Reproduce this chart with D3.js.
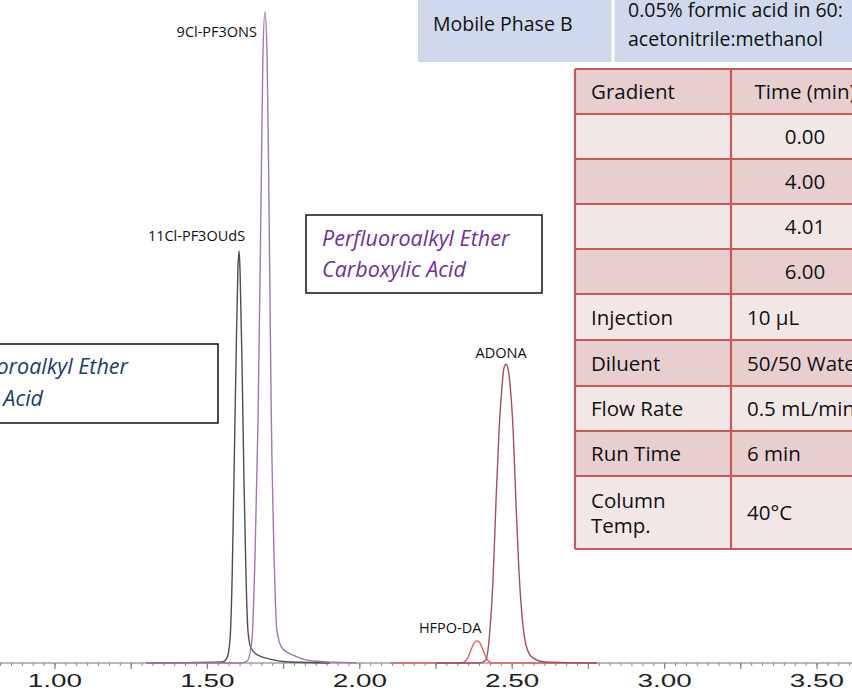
<!DOCTYPE html>
<html>
<head>
<meta charset="utf-8">
<script src="https://cdn.jsdelivr.net/npm/d3@7"></script>
<style>
body { margin: 0; background: #fff; }
svg { display: block; }
</style>
</head>
<body>
<svg id="chart" width="852" height="692"></svg>
<script>
// retention time (min), relative intensity (%)
var trace11Cl = [[1.30,0],[1.548,0.15],[1.564,0.8],[1.574,3.5],[1.581,12.7],[1.587,28],[1.594,46.5],[1.600,60.4],[1.604,63.3],[1.607,60.4],[1.614,45],[1.620,28],[1.627,12.7],[1.633,5],[1.643,2.3],[1.666,1.2],[1.705,0.6],[1.771,0.15],[1.902,0]];
var trace9Cl = [[1.30,0],[1.607,0],[1.630,0.3],[1.646,3.5],[1.656,16],[1.666,37],[1.676,71],[1.682,93],[1.689,100],[1.696,93],[1.702,71],[1.709,40],[1.719,16],[1.728,5],[1.745,2.3],[1.787,1.1],[1.846,0.3],[1.99,0]];
var traceHFPO = [[2.10,0],[2.335,0],[2.352,0.6],[2.365,2.0],[2.375,3.1],[2.385,3.4],[2.394,3.1],[2.404,2.0],[2.417,0.6],[2.434,0],[2.778,0]];
var traceADONA = [[2.25,0],[2.394,0],[2.414,0.5],[2.427,5.1],[2.437,12.7],[2.447,25],[2.457,35.8],[2.467,42.7],[2.473,45.3],[2.480,45.9],[2.486,45.3],[2.493,42.7],[2.503,35.8],[2.512,25],[2.522,14.3],[2.532,7.4],[2.545,2.8],[2.565,0.9],[2.608,0.15],[2.778,0]];
var peakNames = ["11Cl-PF3OUdS", "9Cl-PF3ONS", "HFPO-DA", "ADONA"];
var majorTicks = [1.00, 1.50, 2.00, 2.50, 3.00, 3.50];

var classBoxes = [["Perfluoroalkyl Ether", "Carboxylic Acid"], ["Perfluoroalkyl Ether", "Sulfonic Acid"]];
var phaseRow = ["Mobile Phase B", "0.05% formic acid in 60:", "acetonitrile:methanol"];
var condLabels = ["Gradient", "", "", "", "", "Injection", "Diluent", "Flow Rate", "Run Time", "Column|Temp."];
var condValues = ["Time (min)", "0.00", "4.00", "4.01", "6.00", "10 µL", "50/50 Water:Methanol", "0.5 mL/min", "6 min", "40°C"];

var svg = d3.select("#chart");
var font = "'Open Sans', sans-serif";

var x = d3.scaleLinear().domain([1.0, 3.5]).range([55, 817]);
var y = d3.scaleLinear().domain([0, 100]).range([663, 12]);

// axis
var axisG = svg.append("g").attr("transform", "translate(0,663)");
axisG.append("line").attr("x1", 0).attr("x2", 852).attr("stroke", "#777").attr("stroke-width", 1.2);
var small = d3.range(0.75, 3.75, 0.25 / 7);
axisG.selectAll("line.sm").data(small).join("line").attr("class", "sm")
  .attr("x1", d => x(d)).attr("x2", d => x(d)).attr("y1", 0).attr("y2", 3)
  .attr("stroke", "#888").attr("stroke-width", 1);
axisG.selectAll("line.tall").data(d3.range(0.75, 3.76, 0.25)).join("line").attr("class", "tall")
  .attr("x1", d => x(d)).attr("x2", d => x(d)).attr("y1", 0).attr("y2", 6)
  .attr("stroke", "#888").attr("stroke-width", 1.3);
axisG.selectAll("text").data(majorTicks).join("text")
  .attr("transform", d => "translate(" + x(d) + ",24) scale(1.55,1)")
  .attr("text-anchor", "middle").attr("font-family", "'Liberation Sans', Arial, sans-serif")
  .attr("font-size", 18).attr("fill", "#222").text(d3.format(".2f"));

// traces
var line = d3.line().x(d => x(d[0])).y(d => y(d[1])).curve(d3.curveMonotoneX);
var traces = [
  {data: traceHFPO, color: "#e0606b"},
  {data: traceADONA, color: "#a44f5b"},
  {data: trace11Cl, color: "#4d4d4d"},
  {data: trace9Cl, color: "#a775b6"}
];
svg.append("g").selectAll("path").data(traces).join("path")
  .attr("d", d => line(d.data)).attr("fill", "none")
  .attr("stroke", d => d.color).attr("stroke-width", 1.4);

// peak labels
function apex(tr) { return tr.reduce((a, b) => b[1] > a[1] ? b : a); }
var lblPos = [
  {p: apex(trace11Cl), dx: 6, dy: -10, anchor: "end"},
  {p: apex(trace9Cl), dx: -8, dy: 25, anchor: "end"},
  {p: apex(traceHFPO), dx: -27, dy: -8, anchor: "middle"},
  {p: apex(traceADONA), dx: -5, dy: -6, anchor: "middle"}
];
svg.append("g").selectAll("text").data(peakNames).join("text")
  .attr("x", (d, i) => x(lblPos[i].p[0]) + lblPos[i].dx)
  .attr("y", (d, i) => y(lblPos[i].p[1]) + lblPos[i].dy)
  .attr("text-anchor", (d, i) => lblPos[i].anchor)
  .attr("font-family", font).attr("font-size", 14.5).attr("fill", "#111").text(d => d);

// class boxes
var box1 = svg.append("g");
box1.append("rect").attr("x", 306).attr("y", 215).attr("width", 236).attr("height", 78)
  .attr("fill", "#fff").attr("stroke", "#111").attr("stroke-width", 1.5);
box1.selectAll("text").data(classBoxes[0]).join("text")
  .attr("x", 322).attr("y", (d, i) => 246 + i * 31)
  .attr("font-family", font).attr("font-style", "italic").attr("font-size", 21.5)
  .attr("fill", "#7030a0").text(d => d);

var box2 = svg.append("g");
box2.append("rect").attr("x", -5).attr("y", 344).attr("width", 223).attr("height", 79)
  .attr("fill", "#fff").attr("stroke", "#111").attr("stroke-width", 1.5);
box2.selectAll("text").data(classBoxes[1]).join("text")
  .attr("x", (d, i) => i === 0 ? 128 : 43).attr("y", (d, i) => 374 + i * 32)
  .attr("text-anchor", "end")
  .attr("font-family", font).attr("font-style", "italic").attr("font-size", 21.5)
  .attr("fill", "#1f3a72").text(d => d);

// mobile phase table (top)
var mp = svg.append("g");
mp.append("rect").attr("x", 418).attr("y", -10).attr("width", 500).attr("height", 72).attr("fill", "#cfd9eb");
mp.append("line").attr("x1", 613).attr("x2", 613).attr("y1", -10).attr("y2", 62).attr("stroke", "#fff").attr("stroke-width", 3);
mp.append("text").attr("x", 433).attr("y", 31).text(phaseRow[0]);
mp.append("text").attr("x", 628).attr("y", 17).text(phaseRow[1]);
mp.append("text").attr("x", 628).attr("y", 46).text(phaseRow[2]);
mp.selectAll("text").attr("font-family", font).attr("font-size", 19.5).attr("fill", "#111");

// conditions table
var rowEdges = [69, 114, 159, 204, 249, 294, 340, 386, 431, 476, 549];
var cx0 = 575, cx1 = 731, cx2 = 930;
var ct = svg.append("g");
ct.selectAll("rect").data(condLabels).join("rect")
  .attr("x", cx0).attr("y", (d, i) => rowEdges[i]).attr("width", cx2 - cx0)
  .attr("height", (d, i) => rowEdges[i + 1] - rowEdges[i])
  .attr("fill", (d, i) => i % 2 === 0 ? "#e7cfd0" : "#f2e7e7");
ct.selectAll("line.h").data(rowEdges).join("line").attr("class", "h")
  .attr("x1", cx0).attr("x2", cx2).attr("y1", d => d).attr("y2", d => d)
  .attr("stroke", "#c9585a").attr("stroke-width", 2.2);
ct.selectAll("line.v").data([cx0, cx1]).join("line").attr("class", "v")
  .attr("x1", d => d).attr("x2", d => d).attr("y1", rowEdges[0]).attr("y2", rowEdges[rowEdges.length - 1])
  .attr("stroke", "#c9585a").attr("stroke-width", 2.2);
condLabels.forEach(function (lab, i) {
  var mid = (rowEdges[i] + rowEdges[i + 1]) / 2;
  var parts = lab.split("|");
  parts.forEach(function (p, j) {
    ct.append("text").attr("x", 591).attr("y", mid + 7.5 + (j - (parts.length - 1) / 2) * 25).text(p);
  });
  var v = condValues[i];
  var centered = i <= 4;
  ct.append("text").attr("x", centered ? 805 : 747).attr("y", mid + 7.5)
    .attr("text-anchor", centered ? "middle" : "start").text(v);
});
ct.selectAll("text").attr("font-family", font).attr("font-size", 20.5).attr("fill", "#111");
</script>
</body>
</html>
